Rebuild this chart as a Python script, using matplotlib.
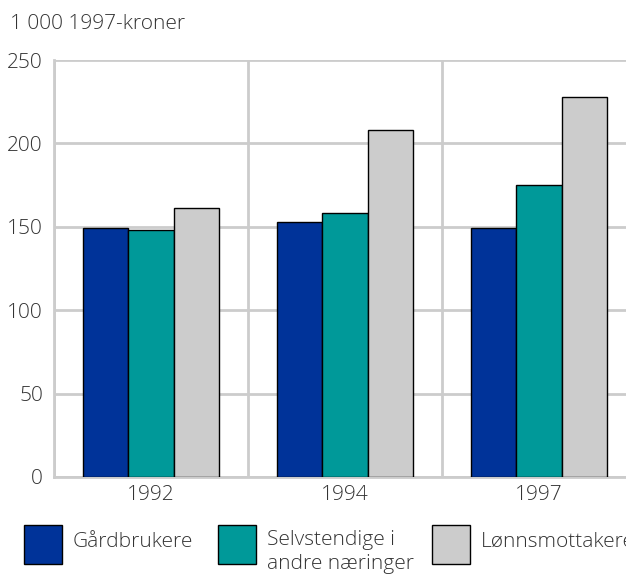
import matplotlib
matplotlib.use("Agg")
import matplotlib.pyplot as plt
from matplotlib.patches import Rectangle
import numpy as np

plt.rcParams['font.family'] = ['Open Sans', 'DejaVu Sans']
plt.rcParams['font.weight'] = 'light'

years = ["1992", "1994", "1997"]
series_names = ["Gårdbrukere", "Selvstendige i\nandre næringer", "Lønnsmottakere"]
gardbrukere = [149, 153, 149]
selvstendige = [148, 158, 175]
lonnsmottakere = [161, 208, 228]
yticks = [0, 50, 100, 150, 200, 250]
ylabel = "1 000 1997-kroner"

colors = ["#003399", "#009999", "#cccccc"]
text_color = "#333333"
grid_color = "#cccccc"
fs = 15

W, H = 626, 575
fig = plt.figure(figsize=(W / 100, H / 100), dpi=100)
ax = fig.add_axes([54 / W, 1 - 477 / H, 582 / W, 417 / H])

x = np.arange(len(years))
bw = 0.7 / 3
for i, (vals, c) in enumerate(zip([gardbrukere, selvstendige, lonnsmottakere], colors)):
    ax.bar(x + (i - 1) * bw, vals, width=bw, color=c, edgecolor="black", linewidth=1.0, zorder=3)

ax.set_xlim(-0.5, 2.5)
ax.set_ylim(0, 250)
ax.set_yticks(yticks)
ax.set_yticklabels([str(v) for v in yticks])
ax.set_xticks(x)
ax.set_xticklabels(years)
ax.set_xticks(np.arange(-0.5, 3.0, 1.0), minor=True)
ax.tick_params(axis="both", which="both", length=0, labelsize=fs, colors=text_color)
ax.tick_params(axis="y", pad=8)
ax.tick_params(axis="x", pad=6)
ax.yaxis.grid(True, color=grid_color, linewidth=2, zorder=0)
ax.xaxis.grid(True, which="minor", color=grid_color, linewidth=2, zorder=0)
ax.xaxis.grid(False, which="major")
for s in ["top", "right"]:
    ax.spines[s].set_visible(False)
for s in ["left", "bottom"]:
    ax.spines[s].set_color(grid_color)
    ax.spines[s].set_linewidth(2)
    ax.spines[s].set_zorder(1)

fig.text(10 / W, 1 - 24 / H, ylabel, fontsize=fs, color=text_color, va="center", ha="left")

# legend
leg_x = [24, 218, 432]
for lx, name, c in zip(leg_x, series_names, colors):
    fig.patches.append(Rectangle((lx / W, 1 - 564 / H), 38 / W, 39 / H, transform=fig.transFigure,
                                 facecolor=c, edgecolor="black", linewidth=1.0))
    lines = name.split("\n")
    if len(lines) == 1:
        fig.text((lx + 49) / W, 1 - 542 / H, name, fontsize=fs, color=text_color, va="center", ha="left")
    else:
        fig.text((lx + 49) / W, 1 - 530 / H, name, fontsize=fs, color=text_color, va="top", ha="left",
                 linespacing=1.3)

fig.savefig("out.png", dpi=100)
